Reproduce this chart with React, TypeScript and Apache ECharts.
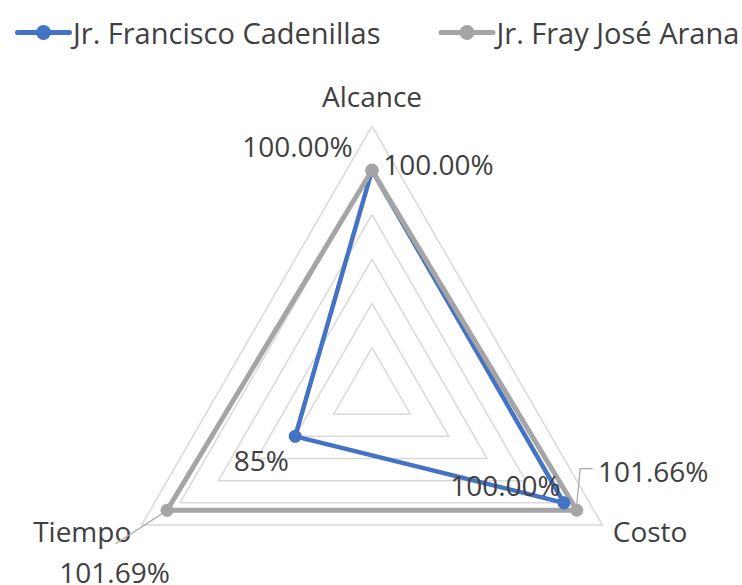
import { useEffect, useRef } from 'react';
import * as echarts from 'echarts';

const indicatorNames = ['Alcance', 'Tiempo', 'Costo'];
const seriesNames = ['Jr. Francisco Cadenillas', 'Jr. Fray José Arana'];
const cadenillasValues = [100, 85, 100];
const aranaValues = [100, 101.69, 101.66];
const cadenillasLabels = ['100.00%', '85%', '100.00%'];
const aranaLabels = ['100.00%', '101.69%', '101.66%'];
const axisMin = 75;
const axisMax = 105;
const splitCount = 6;

const colors = ['#4472C4', '#A5A5A5'];
const lineWidths = [4.5, 5];
const labelOffsets = [
  [[66.5, -6.5], [-34, 24], [-58.5, -18]],
  [[-74.5, -24], [-52.5, 61.5], [76.5, -39]],
];
const FONT = '"Open Sans", "Noto Sans", sans-serif';
const FS = 28;
const LEGEND_FS = 29;
const TEXT = '#404040';
const LEGEND_ICON =
  'path://M2.5,5 h52 a2.5,2.5 0 0 1 0,5 h-52 a2.5,2.5 0 0 1 0,-5 Z M21,7.5 a7.5,7.5 0 1,1 15,0 a7.5,7.5 0 1,1 -15,0 Z';

export default function App() {
  const ref = useRef<HTMLDivElement>(null);
  useEffect(() => {
    if (!ref.current) return;
    const chart = echarts.init(ref.current, undefined, { renderer: 'svg' });
    const allValues = [cadenillasValues, aranaValues];
    const allLabels = [cadenillasLabels, aranaLabels];

    const mainItems = allValues.map((vals, s) => ({
      name: seriesNames[s],
      value: vals,
      symbol: 'circle',
      symbolSize: 13,
      lineStyle: { color: colors[s], width: lineWidths[s] },
      itemStyle: { color: colors[s] },
      label: { show: false },
    }));

    const labelItems: any[] = [];
    allValues.forEach((vals, s) => {
      vals.forEach((_, k) => {
        const text = allLabels[s][k];
        labelItems.push({
          name: `lbl-${s}-${k}`,
          value: vals.map((v, i) => (i === k ? v : axisMin)),
          symbol: 'circle',
          symbolSize: 0,
          lineStyle: { width: 0, color: 'transparent' },
          itemStyle: { color: 'transparent' },
          label: {
            show: true,
            position: 'inside',
            offset: labelOffsets[s][k],
            fontSize: FS,
            fontFamily: FONT,
            color: TEXT,
            formatter: (p: any) => (p.value === axisMin ? '' : text),
          },
        });
      });
    });

    chart.setOption({
      animation: false,
      legend: {
        left: 10,
        top: 13,
        width: 800,
        itemWidth: 57,
        itemHeight: 15,
        itemGap: 58,
        data: seriesNames.map((n, s) => ({
          name: n,
          icon: LEGEND_ICON,
          itemStyle: { color: colors[s] },
        })),
        textStyle: { fontSize: LEGEND_FS, fontFamily: FONT, color: TEXT, padding: [0, 0, 0, -4] },
      },
      radar: {
        center: [372, 392],
        radius: 266,
        startAngle: 90,
        shape: 'polygon',
        splitNumber: splitCount,
        nameGap: 12,
        indicator: indicatorNames.map((n) => ({ name: n, min: axisMin, max: axisMax })),
        axisName: {
          fontSize: FS,
          fontFamily: FONT,
          color: TEXT,
          formatter: (name: string) => (name === indicatorNames[0] ? `{top|${name}}` : name),
          rich: { top: { fontSize: FS, fontFamily: FONT, color: TEXT, padding: [0, 0, 4, 0] } },
        },
        axisLine: { show: false },
        axisTick: { show: false },
        axisLabel: { show: false },
        splitArea: { show: false },
        splitLine: { lineStyle: { color: '#D9D9D9', width: 1.5 } },
      },
      series: [
        {
          type: 'radar',
          data: [...mainItems, ...labelItems],
        },
      ],
    });

    const coord = (chart as any).getModel().getComponent('radar', 0).coordinateSystem;
    const pT = coord.dataToPoint(aranaValues[1], 1);
    const pC = coord.dataToPoint(aranaValues[2], 2);
    const leaderStyle = { stroke: '#A6A6A6', lineWidth: 1.2, fill: null };
    chart.setOption({
      graphic: [
        {
          type: 'polyline',
          shape: { points: [[pT[0] - 3.5, pT[1] + 2.5], [pT[0] - 51.5, pT[1] + 33.5]] },
          style: leaderStyle,
          z: 1,
        },
        {
          type: 'polyline',
          shape: {
            points: [
              [pC[0], pC[1] - 5.5],
              [pC[0] + 3.5, pC[1] - 41.5],
              [pC[0] + 16, pC[1] - 41.5],
            ],
          },
          style: leaderStyle,
          z: 1,
        },
      ],
    });

    return () => chart.dispose();
  }, []);
  return (
    <div
      ref={ref}
      style={{ position: 'absolute', left: 0, top: 0, width: 742, height: 585, background: '#fff' }}
    />
  );
}
